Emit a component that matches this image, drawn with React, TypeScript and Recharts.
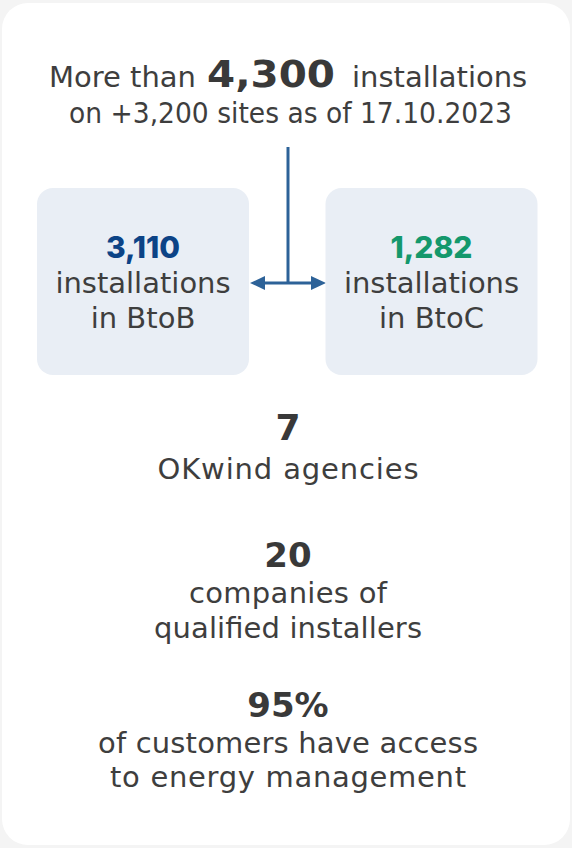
import React from 'react';
import { BarChart, Bar, XAxis, YAxis } from 'recharts';

// ---- data ----
const segments = ['BtoB', 'BtoC'];
const segmentInstallations = [3110, 1282];
const segmentLabels = [
  ['installations', 'in BtoB'],
  ['installations', 'in BtoC'],
];
const totalInstallations = 4300;
const totalSites = 3200;
const asOfDate = '17.10.2023';
const statValues = ['7', '20', '95%'];
const statLabels = [
  ['OKwind agencies'],
  ['companies of', 'qualified installers'],
  ['of customers have access', 'to energy management'],
];

// ---- styles / layout ----
const W = 572;
const H = 848;
const TEXT = '#3e3e3e';
const BOLD = '#393939';
const ARROW = '#2d6298';
const BOX_FILL = '#e9eef5';
const segmentColors = ['#0c4386', '#14986c'];
const FONT = '"DejaVu Sans", sans-serif';
const NUM_FONT = 'Inter, "DejaVu Sans", sans-serif';
const BOX_TOP = 188;
const BOX_HEIGHT = 187;
const CX = 288;

const chartData = segments.map((s, i) => ({
  segment: s,
  installations: segmentInstallations[i],
  labels: segmentLabels[i],
}));

const fmt = (n: number) => n.toLocaleString('en-US');

const BoxShape = (props: any) => {
  const { x, width, index, payload } = props;
  const cx = x + width / 2;
  return (
    <g>
      <rect x={x} y={BOX_TOP} width={width} height={BOX_HEIGHT} rx={16} ry={16} fill={BOX_FILL} />
      <text
        x={cx}
        y={258}
        textAnchor="middle"
        fontFamily={NUM_FONT}
        fontWeight={800}
        fontSize={30}
        fill={segmentColors[index]}
      >
        {fmt(payload.installations)}
      </text>
      {payload.labels.map((l: string, i: number) => (
        <text key={i} x={cx} y={293 + i * 34.5} textAnchor="middle" fontFamily={FONT} fontSize={29} fill={TEXT}>
          {l}
        </text>
      ))}
    </g>
  );
};

const statValueY = [440, 567, 717];
const statLabelY = [[479], [603, 638], [753, 787]];
const statLabelW = [[261], [198, 268], [380, 356]];
const statValueSize = [36, 34, 34];

export default function App() {
  return (
    <div style={{ position: 'absolute', left: 0, top: 0, width: W, height: H, background: '#f4f4f4' }}>
      <div
        style={{
          position: 'absolute',
          left: 2,
          top: 3,
          width: 568,
          height: 842,
          borderRadius: 26,
          background: '#ffffff',
        }}
      />
      <div style={{ position: 'absolute', left: 0, top: 0 }}>
        <BarChart width={W} height={H} data={chartData} margin={{ top: 0, right: -4, bottom: 0, left: -1 }}>
          <XAxis dataKey="segment" hide />
          <YAxis hide domain={[0, 'dataMax']} />
          <Bar dataKey="installations" barSize={212} isAnimationActive={false} shape={<BoxShape />} />

          {/* title */}
          <text x={196} y={87} textAnchor="end" fontFamily={FONT} fontSize={29} fill={TEXT}>
            More than
          </text>
          <text
            x={271}
            y={87}
            textAnchor="middle"
            fontFamily={FONT}
            fontWeight={700}
            fontSize={38}
            fill={BOLD}
            textLength={128}
            lengthAdjust="spacingAndGlyphs"
          >
            {fmt(totalInstallations)}
          </text>
          <text x={352} y={87} textAnchor="start" fontFamily={FONT} fontSize={29} fill={TEXT}>
            installations
          </text>
          <text
            x={290.5}
            y={123}
            textAnchor="middle"
            fontFamily={FONT}
            fontSize={29}
            fill={TEXT}
            textLength={443}
            lengthAdjust="spacingAndGlyphs"
          >
            {`on +${fmt(totalSites)} sites as of ${asOfDate}`}
          </text>

          {/* connector */}
          <line x1={CX} y1={147} x2={CX} y2={283} stroke={ARROW} strokeWidth={3} />
          <line x1={262} y1={283} x2={313} y2={283} stroke={ARROW} strokeWidth={3} />
          <polygon points="250,283 265,276 265,290" fill={ARROW} />
          <polygon points="326,283 311,276 311,290" fill={ARROW} />

          {/* stats */}
          {statValues.map((v, i) => (
            <g key={i}>
              <text
                x={CX}
                y={statValueY[i]}
                textAnchor="middle"
                fontFamily={FONT}
                fontWeight={700}
                fontSize={statValueSize[i]}
                fill={BOLD}
              >
                {v}
              </text>
              {statLabels[i].map((l, j) => (
                <text
                  key={j}
                  x={CX}
                  y={statLabelY[i][j]}
                  textAnchor="middle"
                  fontFamily={FONT}
                  fontSize={29}
                  fill={TEXT}
                  textLength={statLabelW[i][j]}
                  lengthAdjust="spacing"
                >
                  {l}
                </text>
              ))}
            </g>
          ))}
        </BarChart>
      </div>
    </div>
  );
}
